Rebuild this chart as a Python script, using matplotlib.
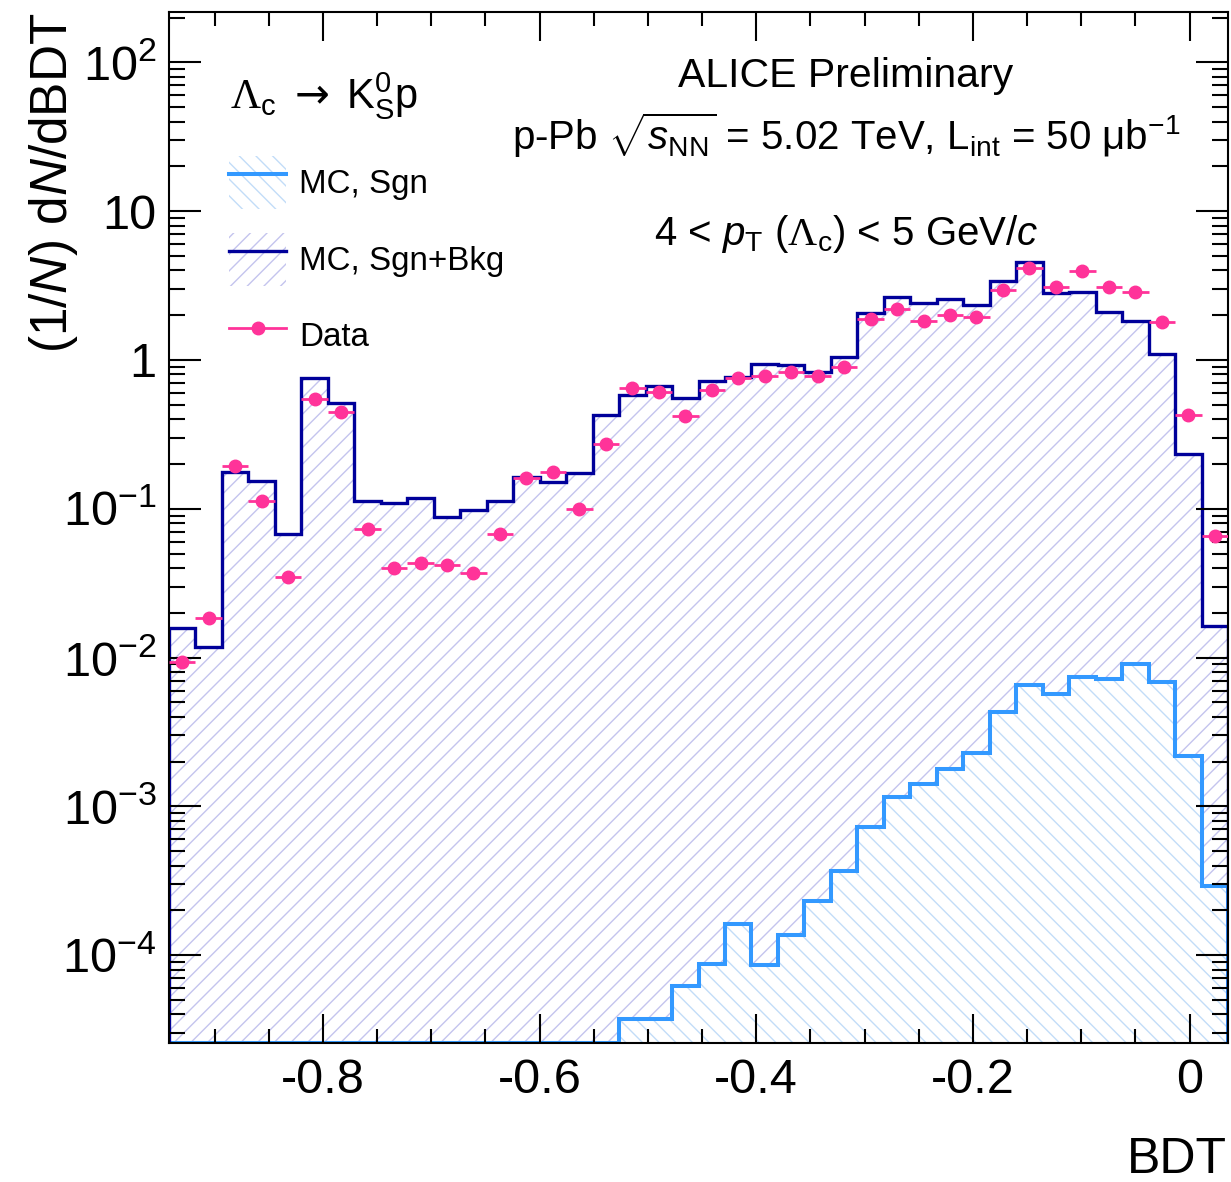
import numpy as np
import matplotlib
matplotlib.use('Agg')
import matplotlib.pyplot as plt
from matplotlib.lines import Line2D
from matplotlib.patches import Patch
from matplotlib.legend_handler import HandlerTuple
from matplotlib.ticker import LogLocator, MultipleLocator, FixedLocator, FuncFormatter, NullFormatter

plt.rcParams['font.family'] = ['Liberation Sans', 'DejaVu Sans']
plt.rcParams['mathtext.fontset'] = 'custom'
plt.rcParams['mathtext.rm'] = 'Liberation Sans'
plt.rcParams['mathtext.it'] = 'Liberation Sans:italic'
plt.rcParams['mathtext.bf'] = 'Liberation Sans:bold'
plt.rcParams['mathtext.tt'] = 'Liberation Serif'   # serif Lambda
plt.rcParams['mathtext.sf'] = 'DejaVu Sans'        # arrow
plt.rcParams['axes.unicode_minus'] = False
plt.rcParams['hatch.linewidth'] = 1.0

# binning of the BDT response
bdt_min, bdt_max = -0.942, 0.0355
n_bins = 40

# MC signal only (first 17 bins empty)
mc_sgn = [0] * 17 + [
    3.71e-5, 3.71e-5, 6.21e-5, 8.69e-5, 1.62e-4, 8.59e-5, 1.37e-4, 2.32e-4,
    3.70e-4, 7.31e-4, 1.16e-3, 1.41e-3, 1.78e-3, 2.28e-3, 4.29e-3, 6.55e-3,
    5.66e-3, 7.44e-3, 7.18e-3, 9.06e-3, 6.89e-3, 2.18e-3, 2.93e-4]

# MC signal + background
mc_sgn_bkg = [
    0.0159, 0.0117, 0.178, 0.154, 0.068, 0.753, 0.517, 0.112, 0.109, 0.118,
    0.0877, 0.0987, 0.112, 0.164, 0.151, 0.175, 0.427, 0.582, 0.672, 0.558,
    0.725, 0.765, 0.936, 0.926, 0.827, 1.043, 2.08, 2.66, 2.43, 2.57,
    2.34, 3.41, 4.54, 2.81, 2.85, 2.11, 1.84, 1.10, 0.232, 0.0164]

# data
data = [
    0.0093, 0.0184, 0.194, 0.113, 0.035, 0.547, 0.45, 0.0728, 0.0398, 0.0434,
    0.0417, 0.0372, 0.0677, 0.160, 0.178, 0.0992, 0.273, 0.645, 0.612, 0.422,
    0.629, 0.753, 0.781, 0.826, 0.785, 0.893, 1.876, 2.20, 1.83, 2.01,
    1.94, 2.95, 4.13, 3.08, 3.96, 3.11, 2.85, 1.81, 0.43, 0.066]

edges = np.linspace(bdt_min, bdt_max, n_bins + 1)
centers = 0.5 * (edges[1:] + edges[:-1])
half_width = 0.5 * (edges[1] - edges[0])

navy = '#00009a'
light_blue = '#3399ff'
pink = '#ff3399'
hatch_bkg = '#c4c4ee'
hatch_sgn = '#c2dcf8'

ymin, ymax = 2.57e-5, 218
base = 1e-7

fig = plt.figure(figsize=(12.31, 11.82), dpi=100)
ax = fig.add_axes([169 / 1231, 1 - 1043 / 1182, 1059 / 1231, 1031 / 1182])

sgn = np.array(mc_sgn, dtype=float)
sgn_plot = np.where(sgn > 0, sgn, ymin)

ax.stairs(mc_sgn_bkg, edges, baseline=base, fill=True, facecolor='none',
          edgecolor=hatch_bkg, hatch='//', linewidth=0, zorder=1)
ax.stairs(sgn_plot, edges, baseline=base, fill=True, facecolor='white',
          edgecolor=hatch_sgn, hatch='\\\\', linewidth=0, zorder=1.1)
ax.stairs(sgn_plot, edges, baseline=base, color=light_blue, lw=2.9, zorder=1.2)
ax.stairs(mc_sgn_bkg, edges, baseline=base, color=navy, lw=2.4, zorder=1.3)
ax.errorbar(centers, data, xerr=half_width, fmt='o', ms=9, color=pink,
            elinewidth=2, capsize=0, zorder=3)

ax.set_yscale('log')
ax.set_xlim(bdt_min, bdt_max)
ax.set_ylim(ymin, ymax)

ax.xaxis.set_major_locator(MultipleLocator(0.2))
ax.xaxis.set_minor_locator(MultipleLocator(0.05))
ax.xaxis.set_major_formatter(FuncFormatter(lambda v, p: '0' if abs(v) < 1e-9 else '%.1f' % v))
ax.yaxis.set_major_locator(FixedLocator(10.0 ** np.arange(-4, 3)))
ax.yaxis.set_minor_locator(LogLocator(base=10, subs=np.arange(2, 10), numticks=20))
ax.yaxis.set_minor_formatter(NullFormatter())


def log_label(v, pos):
    e = int(round(np.log10(v)))
    if e == 0:
        return '1'
    if e == 1:
        return '10'
    return r'$10^{%d}$' % e


ax.yaxis.set_major_formatter(FuncFormatter(log_label))

for s in ax.spines.values():
    s.set_linewidth(1.5)
ax.tick_params(which='both', direction='in', top=True, right=True, width=1.5, labelsize=35)
ax.tick_params(axis='x', which='major', length=21, pad=11)
ax.tick_params(axis='x', which='minor', length=10.3)
ax.tick_params(axis='y', which='major', length=23, pad=9)
ax.tick_params(axis='y', which='minor', length=11.5)

fig.text(1227 / 1231, 1 - 1173 / 1182, 'BDT', fontsize=36, ha='right', va='baseline')
fig.text(67 / 1231, 1 - 13 / 1182, r'(1/$N$) d$N$/dBDT', fontsize=37, rotation=90,
         rotation_mode='anchor', ha='right', va='baseline')

# legend
h_sgn = (Patch(facecolor='white', edgecolor=hatch_sgn, hatch='\\\\', lw=0),
         Line2D([], [], color=light_blue, lw=2.9))
h_bkg = (Patch(facecolor='none', edgecolor=hatch_bkg, hatch='//', lw=0),
         Line2D([], [], color=navy, lw=2.4))
h_data = Line2D([], [], color=pink, lw=2, marker='o', ms=9)
ax.legend([h_sgn, h_bkg, h_data], ['MC, Sgn', 'MC, Sgn+Bkg', 'Data'],
          handler_map={tuple: HandlerTuple(ndivide=1, pad=0)},
          loc='upper left', bbox_to_anchor=(229 / 1231, 1 - 156 / 1182),
          bbox_transform=fig.transFigure, frameon=False, fontsize=23.9,
          handlelength=1.72, handleheight=2.08, labelspacing=0.71,
          handletextpad=0.39, borderpad=0, borderaxespad=0)

fig.text(230 / 1231, 1 - 108 / 1182,
         r'$\mathtt{\Lambda}_{\rm c}\ \mathsf{\rightarrow}\;{\rm K}^{0}_{\rm S}{\rm p}$',
         fontsize=30, ha='left', va='baseline')

xc = 846 / 1231
fig.text(xc, 1 - 87 / 1182, 'ALICE Preliminary', fontsize=29.5, ha='center', va='baseline')
fig.text(xc, 1 - 150 / 1182,
         r'p-Pb $\sqrt{s_{\rm NN}}$ = 5.02 TeV, L$_{\rm int}$ = 50 $\mathrm{\mu}$b$^{-1}$',
         fontsize=29, ha='center', va='baseline')
fig.text(xc, 1 - 245 / 1182,
         r'4 < $p_{\rm T}$ ($\mathtt{\Lambda}_{\rm c}$) < 5 GeV/$c$',
         fontsize=29, ha='center', va='baseline')

fig.savefig('out.png', dpi=100)
